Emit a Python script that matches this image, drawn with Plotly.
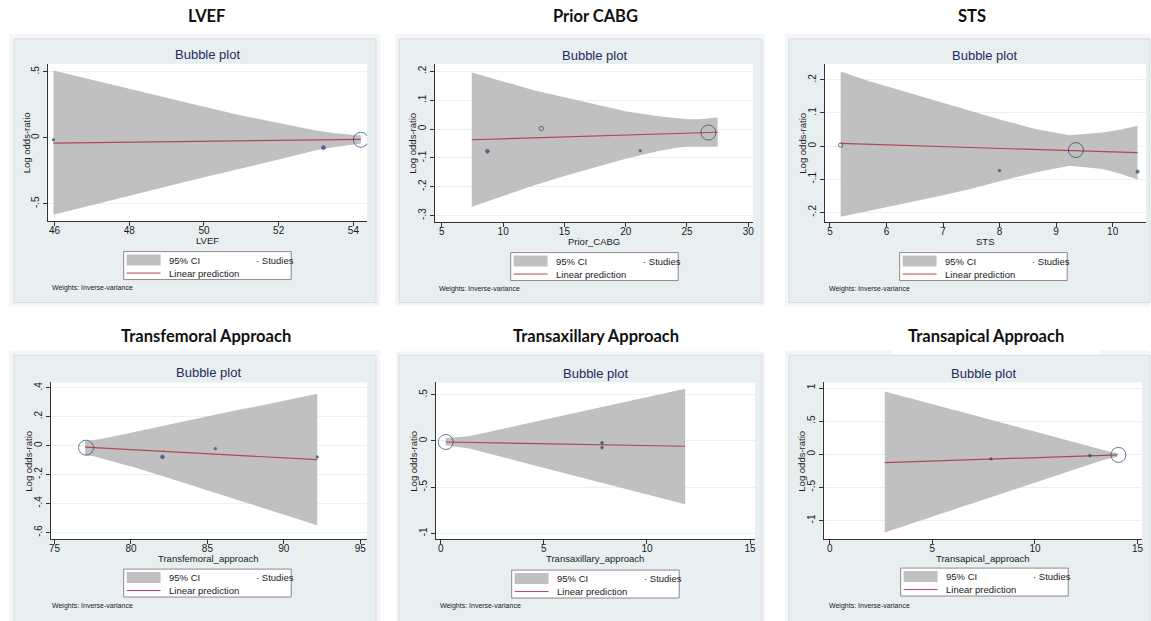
import math
import plotly.graph_objects as go

W, H = 1151, 621

# ------------------------------------------------------------------ data
titles = ["LVEF", "Prior CABG", "STS",
          "Transfemoral Approach", "Transaxillary Approach", "Transapical Approach"]
x_titles = ["LVEF", "Prior_CABG", "STS",
            "Transfemoral_approach", "Transaxillary_approach", "Transapical_approach"]
subtitle = "Bubble plot"
y_title = "Log odds-ratio"
legend_ci = "95% CI"
legend_line = "Linear prediction"
legend_studies = "Studies"
weights_note = "Weights: Inverse-variance"

# LVEF
lvef_band_x = [45.97, 47, 48, 49, 50, 51, 52, 53, 53.5, 54.0, 54.2]
lvef_upper = [0.51, 0.44, 0.37, 0.30, 0.235, 0.17, 0.11, 0.055, 0.035, 0.02, 0.018]
lvef_lower = [-0.585, -0.51, -0.44, -0.37, -0.30, -0.23, -0.165, -0.095, -0.07, -0.05, -0.045]
lvef_line_x = [45.97, 54.2]
lvef_line_y = [-0.04, -0.012]
lvef_study_x = [45.97, 53.2, 54.2]
lvef_study_y = [-0.015, -0.075, -0.015]
lvef_study_w = [2, 6, 92]
lvef_xticks = [46, 48, 50, 52, 54]
lvef_yticks = [-0.5, 0, 0.5]
lvef_ytext = ["-.5", "0", ".5"]

# Prior CABG
cabg_band_x = [7.44, 10, 12.5, 15, 17.5, 20, 22.5, 24, 25, 26, 27.5]
cabg_upper = [0.196, 0.165, 0.135, 0.11, 0.085, 0.062, 0.045, 0.038, 0.034, 0.034, 0.040]
cabg_lower = [-0.269, -0.232, -0.196, -0.163, -0.132, -0.103, -0.078, -0.066, -0.061, -0.060, -0.061]
cabg_line_x = [7.44, 27.5]
cabg_line_y = [-0.037, -0.011]
cabg_study_x = [8.72, 13.11, 21.19, 26.75]
cabg_study_y = [-0.077, 0.002, -0.075, -0.012]
cabg_study_w = [5, 7, 2, 83]
cabg_xticks = [5, 10, 15, 20, 25, 30]
cabg_yticks = [-0.3, -0.2, -0.1, 0, 0.1, 0.2]
cabg_ytext = ["-.3", "-.2", "-.1", "0", ".1", ".2"]

# STS
sts_band_x = [5.19, 5.7, 6.29, 6.9, 7.47, 8.05, 8.65, 9.24, 9.82, 10.15, 10.44]
sts_upper = [0.225, 0.196, 0.166, 0.136, 0.106, 0.078, 0.051, 0.033, 0.041, 0.050, 0.061]
sts_lower = [-0.213, -0.195, -0.175, -0.152, -0.13, -0.104, -0.079, -0.059, -0.069, -0.084, -0.101]
sts_line_x = [5.19, 10.44]
sts_line_y = [0.008, -0.020]
sts_study_x = [5.19, 8.0, 9.35, 10.44]
sts_study_y = [0.003, -0.074, -0.012, -0.077]
sts_study_w = [7, 2, 86, 4]
sts_xticks = [5, 6, 7, 8, 9, 10]
sts_yticks = [-0.2, -0.1, 0, 0.1, 0.2]
sts_ytext = ["-.2", "-.1", "0", ".1", ".2"]

# Transfemoral approach
tf_band_x = [77.0, 77.5, 78.1, 80.3, 82.5, 84.6, 86.8, 89.0, 92.18]
tf_upper = [0.030, 0.036, 0.047, 0.096, 0.146, 0.193, 0.242, 0.287, 0.359]
tf_lower = [-0.067, -0.072, -0.087, -0.152, -0.225, -0.297, -0.37, -0.442, -0.550]
tf_line_x = [77.0, 92.18]
tf_line_y = [-0.010, -0.097]
tf_study_x = [77.06, 82.06, 85.52, 92.18]
tf_study_y = [-0.014, -0.078, -0.021, -0.078]
tf_study_w = [88, 5, 2, 2]
tf_xticks = [75, 80, 85, 90, 95]
tf_yticks = [-0.6, -0.4, -0.2, 0, 0.2, 0.4]
tf_ytext = ["-.6", "-.4", "-.2", "0", ".2", ".4"]

# Transaxillary approach
tax_band_x = [0.24, 0.7, 1.37, 3.79, 7.02, 10.24, 11.85]
tax_upper = [0.032, 0.038, 0.050, 0.170, 0.328, 0.486, 0.566]
tax_lower = [-0.046, -0.058, -0.082, -0.221, -0.406, -0.590, -0.684]
tax_line_x = [0.24, 11.85]
tax_line_y = [-0.011, -0.057]
tax_study_x = [0.24, 7.82, 7.82]
tax_study_y = [-0.011, -0.021, -0.071]
tax_study_w = [94, 3, 3]
tax_xticks = [0, 5, 10, 15]
tax_yticks = [-1, -0.5, 0, 0.5]
tax_ytext = ["-1", "-.5", "0", ".5"]

# Transapical approach
tap_band_x = [2.68, 5.19, 8.43, 11.67, 13.29, 13.7, 14.02]
tap_upper = [0.950, 0.739, 0.468, 0.196, 0.06, 0.035, 0.02]
tap_lower = [-1.181, -0.925, -0.591, -0.256, -0.09, -0.06, -0.04]
tap_line_x = [2.68, 14.02]
tap_line_y = [-0.126, -0.010]
tap_study_x = [7.86, 12.68, 14.07]
tap_study_y = [-0.07, -0.02, -0.01]
tap_study_w = [2, 3, 95]
tap_xticks = [0, 5, 10, 15]
tap_yticks = [-1, -0.5, 0, 0.5, 1]
tap_ytext = ["-1", "-.5", "0", ".5", "1"]

series = [
    (lvef_band_x, lvef_upper, lvef_lower, lvef_line_x, lvef_line_y,
     lvef_study_x, lvef_study_y, lvef_study_w, lvef_xticks, lvef_yticks, lvef_ytext),
    (cabg_band_x, cabg_upper, cabg_lower, cabg_line_x, cabg_line_y,
     cabg_study_x, cabg_study_y, cabg_study_w, cabg_xticks, cabg_yticks, cabg_ytext),
    (sts_band_x, sts_upper, sts_lower, sts_line_x, sts_line_y,
     sts_study_x, sts_study_y, sts_study_w, sts_xticks, sts_yticks, sts_ytext),
    (tf_band_x, tf_upper, tf_lower, tf_line_x, tf_line_y,
     tf_study_x, tf_study_y, tf_study_w, tf_xticks, tf_yticks, tf_ytext),
    (tax_band_x, tax_upper, tax_lower, tax_line_x, tax_line_y,
     tax_study_x, tax_study_y, tax_study_w, tax_xticks, tax_yticks, tax_ytext),
    (tap_band_x, tap_upper, tap_lower, tap_line_x, tap_line_y,
     tap_study_x, tap_study_y, tap_study_w, tap_xticks, tap_yticks, tap_ytext),
]

# ------------------------------------------------------------------ layout (pixels)
panels = [
    dict(box=(46, 63, 366, 220), xr=[45.821, 54.366], yr=[-0.629, 0.561],
         outer=(7, 33, 379, 306), inner=(12, 38, 375, 302),
         title=(205, 15), sub=(206, 54), leg=(122, 251), note=(48, 287)),
    dict(box=(434, 63, 753, 221), xr=[4.43, 30.39], yr=[-0.321, 0.226],
         outer=(394, 33, 765, 305), inner=(398, 38, 762, 302),
         title=(595, 15), sub=(594, 55), leg=(510, 252), note=(436, 288)),
    dict(box=(825, 63, 1147, 221), xr=[4.91, 10.59], yr=[-0.228, 0.248],
         outer=(785, 33, 1151, 306), inner=(789, 38, 1151, 302),
         title=(973, 15), sub=(985, 55), leg=(900, 252), note=(827, 288)),
    dict(box=(49, 382, 366, 539), xr=[74.76, 95.44], yr=[-0.646, 0.437],
         outer=(7, 350, 379, 621), inner=(12, 355, 375, 625),
         title=(205, 336), sub=(207, 372), leg=(122, 569), note=(48, 606)),
    dict(box=(435, 382, 755, 539), xr=[-0.24, 15.24], yr=[-1.062, 0.634],
         outer=(395, 351, 765, 621), inner=(398, 355, 762, 625),
         title=(596, 336), sub=(595, 373), leg=(511, 570), note=(437, 606)),
    dict(box=(824, 382, 1143, 539), xr=[-0.29, 15.22], yr=[-1.282, 1.086],
         outer=(785, 350, 1151, 621), inner=(789, 355, 1151, 625),
         title=(987, 336), sub=(984, 373), leg=(901, 568), note=(827, 606)),
]

BAND = "#c0c0c0"
LINE = "#b04852"
NAVY = "#2a3f6e"
BG_OUT = "#f3f5f6"
BG_IN = "#e8eff1"
TXT = "#1a1a1a"
SANS = "Liberation Sans"


def fx(px):
    return px / W


def fy(py):
    return 1 - py / H


fig = go.Figure()
shapes = []
annotations = []
layout_axes = {}


def prect(x0, y0, x1, y1, fill, line=None, lw=0):
    return dict(type="rect", xref="paper", yref="paper",
                x0=fx(x0), x1=fx(x1), y0=fy(y1), y1=fy(y0),
                fillcolor=fill, line=dict(color=line or fill, width=lw),
                layer="below")


def ann(text, px, py, size, color=TXT, xa="center", ya="middle", family=SANS, angle=0):
    return dict(text=text, x=fx(px), y=fy(py), xref="paper", yref="paper",
                showarrow=False, xanchor=xa, yanchor=ya, textangle=angle,
                font=dict(size=size, color=color, family=family))


for i, (p, s) in enumerate(zip(panels, series), start=1):
    (bx, up, lo, lx, ly, sx, sy, sw, xt, yt, ytt) = s
    xa = "x" if i == 1 else f"x{i}"
    ya = "y" if i == 1 else f"y{i}"
    l, t, r, b = p["box"]

    shapes.append(prect(*p["outer"], BG_OUT))
    shapes.append(prect(*p["inner"], BG_IN, "#d6dfe2", 1))
    shapes.append(dict(type="rect", xref=f"{xa} domain", yref=f"{ya} domain",
                       x0=0, x1=1, y0=0, y1=1, fillcolor="white",
                       line=dict(width=0), layer="below"))

    fig.add_trace(go.Scatter(x=bx + bx[::-1], y=up + lo[::-1], fill="toself",
                             fillcolor=BAND, line=dict(width=0), mode="lines",
                             xaxis=xa, yaxis=ya, showlegend=False, hoverinfo="skip"))
    fig.add_trace(go.Scatter(x=lx, y=ly, mode="lines", line=dict(color=LINE, width=1.2),
                             xaxis=xa, yaxis=ya, showlegend=False))
    wmax = max(sw)
    sizes = [max(2.4, 15 * math.sqrt(w / wmax)) for w in sw]
    symbols = ["circle" if d < 4.2 else "circle-open" for d in sizes]
    fig.add_trace(go.Scatter(x=sx, y=sy, mode="markers",
                             marker=dict(symbol=symbols, size=sizes, color=NAVY,
                                         line=dict(width=1, color=NAVY)),
                             xaxis=xa, yaxis=ya, showlegend=False))

    axis_common = dict(showline=True, linecolor="#333", linewidth=1, ticks="outside",
                       ticklen=4, tickcolor="#333", zeroline=False, fixedrange=True,
                       tickfont=dict(size=10, family=SANS, color=TXT))
    layout_axes["xaxis" if i == 1 else f"xaxis{i}"] = dict(
        domain=[fx(l), fx(r)], range=p["xr"], anchor=ya, tickvals=xt,
        showgrid=False, ticklabelstandoff=-4, **axis_common)
    layout_axes["yaxis" if i == 1 else f"yaxis{i}"] = dict(
        domain=[fy(b), fy(t)], range=p["yr"], anchor=xa, tickvals=yt, ticktext=ytt,
        tickangle=-90, showgrid=True, gridcolor="#e9f1f3", gridwidth=1, **axis_common)

    annotations.append(ann(f"<b>{titles[i-1]}</b>", *p["title"], 16.5, "#111", family="Lato"))
    annotations.append(ann(subtitle, *p["sub"], 13, "#1e2b5c"))
    annotations.append(ann(x_titles[i-1], (l + r) / 2, b + 19.5, 9.5))
    annotations.append(ann(y_title, l - 22, (t + b) / 2, 9.5, angle=-90))
    annotations.append(ann(weights_note, *p["note"], 7, xa="left"))

    L, T = p["leg"]
    shapes.append(dict(type="rect", xref="paper", yref="paper",
                       x0=fx(L), x1=fx(L + 168), y0=fy(T + 28), y1=fy(T),
                       fillcolor="white", line=dict(color="#8a8a8a", width=1)))
    shapes.append(dict(type="rect", xref="paper", yref="paper",
                       x0=fx(L + 3), x1=fx(L + 37), y0=fy(T + 14), y1=fy(T + 3),
                       fillcolor=BAND, line=dict(width=0)))
    shapes.append(dict(type="line", xref="paper", yref="paper",
                       x0=fx(L + 3), x1=fx(L + 37), y0=fy(T + 21.5), y1=fy(T + 21.5),
                       line=dict(color=LINE, width=1)))
    annotations.append(ann(legend_ci, L + 43, T + 8.5, 9.5, xa="left"))
    annotations.append(ann(legend_line, L + 43, T + 21.5, 9.5, xa="left"))
    annotations.append(ann("\u00b7 " + legend_studies, L + 131, T + 8.5, 9.5, xa="left"))

shapes.append(prect(892, 345, 1100, 354, "white"))

fig.update_layout(width=W, height=H, margin=dict(l=0, r=0, t=0, b=0),
                  paper_bgcolor="white", plot_bgcolor="rgba(0,0,0,0)",
                  showlegend=False, shapes=shapes, annotations=annotations,
                  **layout_axes)

fig.write_html("out.html", config={"displayModeBar": False},
               post_script="document.body.style.margin='0';"
                           "document.body.style.overflow='hidden';")
